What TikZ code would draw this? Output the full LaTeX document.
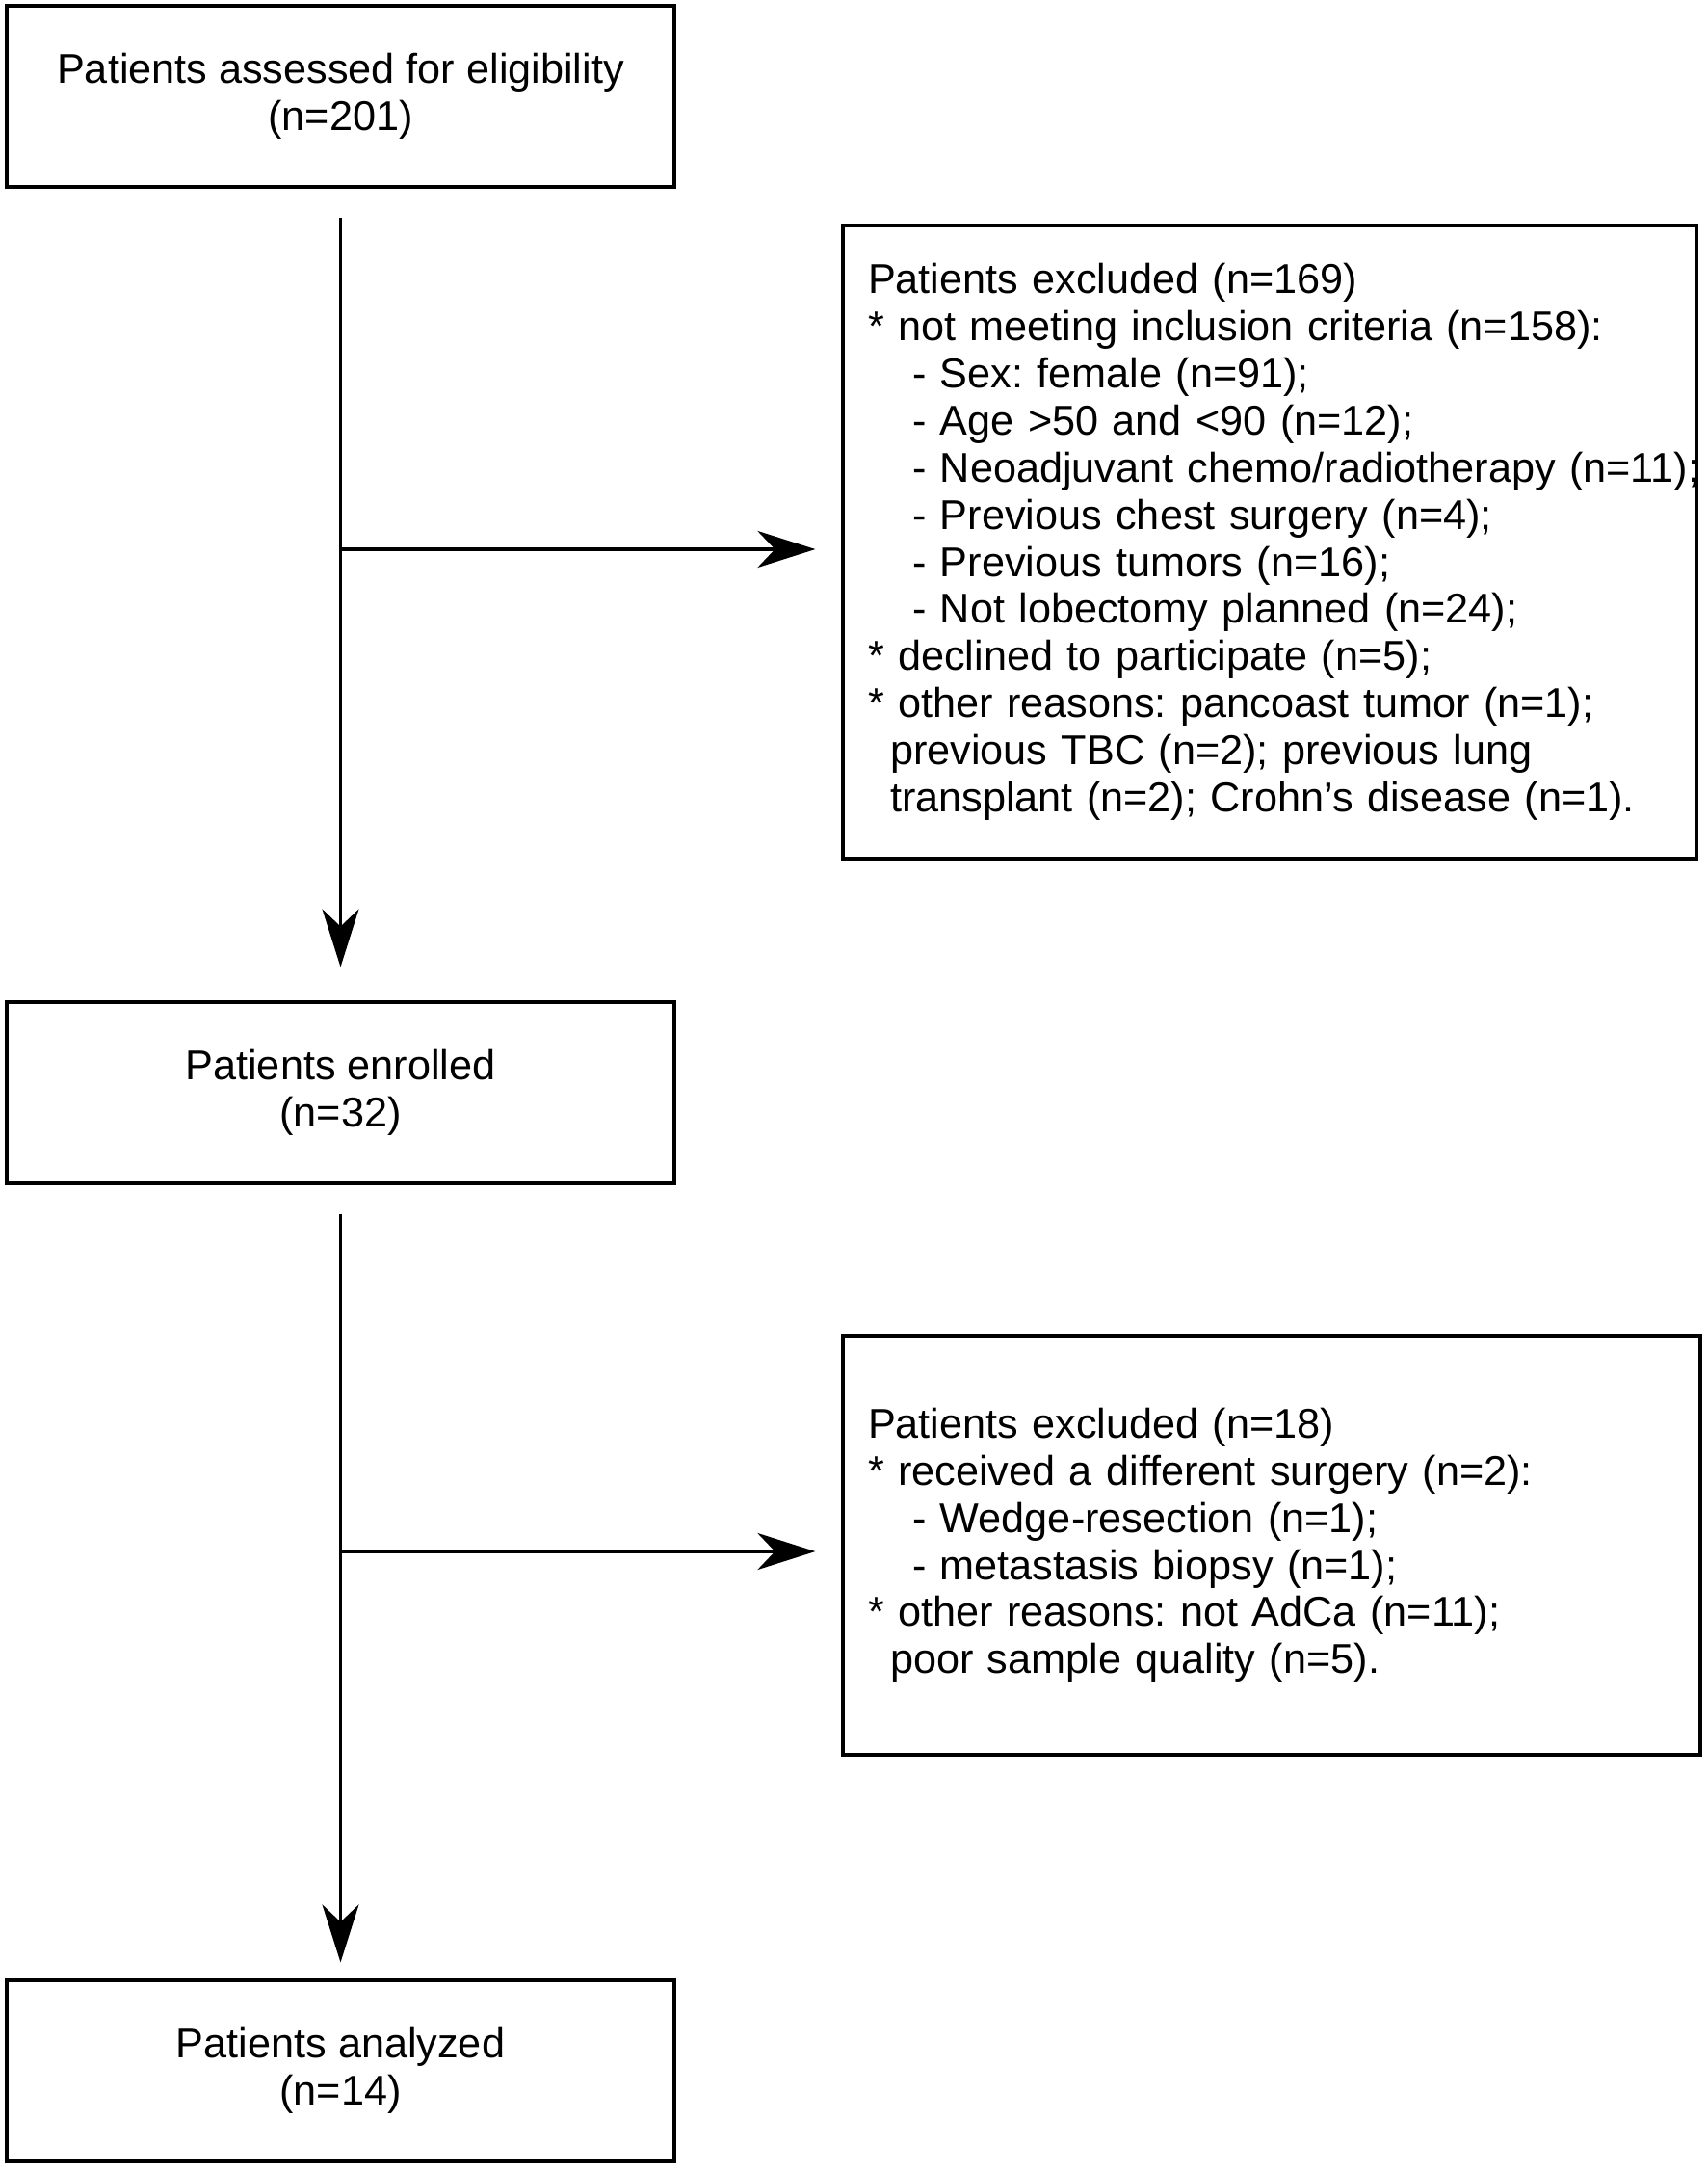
\documentclass[tikz,border=0pt]{standalone}
\usepackage{fontspec}
\setmainfont{Liberation Sans}
\frenchspacing
\usetikzlibrary{arrows.meta}
\tikzset{
  flowbox/.style={draw, line width=0.9pt, align=center, minimum width=6.93cm, minimum height=1.88cm, font=\fontsize{12.3}{13.9}\selectfont},
  exclbox/.style={draw, line width=0.9pt, align=left, inner xsep=0.26cm, font=\fontsize{12.3}{13.9}\selectfont},
  arr/.style={line width=0.9pt, -{Stealth[length=6mm, width=3.8mm, inset=1.8mm]}}
}
\begin{document}
\begin{tikzpicture}
\useasboundingbox (0,0) rectangle (17.72,-22.54);
\node[flowbox] (assessed) at (3.535,-1.00) {Patients assessed for eligibility\\(n=201)};
\node[exclbox, text width=8.34cm, minimum height=6.57cm] (excl1) at (13.18,-5.625) {Patients excluded (n=169)\\
{*} not meeting inclusion criteria (n=158):\\
\hspace*{0.46cm}- Sex: female (n=91);\\
\hspace*{0.46cm}- Age >50 and <90 (n=12);\\
\mbox{\hspace*{0.46cm}- Neoadjuvant chemo/radiotherapy (n=11);}\\
\hspace*{0.46cm}- Previous chest surgery (n=4);\\
\hspace*{0.46cm}- Previous tumors (n=16);\\
\hspace*{0.46cm}- Not lobectomy planned (n=24);\\
{*} declined to participate (n=5);\\
{*} other reasons: pancoast tumor (n=1);\\
\hspace*{0.23cm}previous TBC (n=2); previous lung\\
\hspace*{0.23cm}transplant (n=2); Crohn’s disease (n=1).};
\node[flowbox] (enrolled) at (3.535,-11.34) {Patients enrolled\\(n=32)};
\node[exclbox, text width=8.38cm, minimum height=4.35cm] (excl2) at (13.20,-16.035) {Patients excluded (n=18)\\
{*} received a different surgery (n=2):\\
\hspace*{0.46cm}- Wedge-resection (n=1);\\
\hspace*{0.46cm}- metastasis biopsy (n=1);\\
{*} other reasons: not AdCa (n=11);\\
\hspace*{0.23cm}poor sample quality (n=5).};
\node[flowbox] (analyzed) at (3.535,-21.49) {Patients analyzed\\(n=14)};
% side branches
\coordinate (split1) at (3.535,-5.70);
\coordinate (split2) at (3.535,-16.10);
\draw[arr, shorten <=0.30cm, shorten >=0.35cm] (assessed.south) -- (enrolled.north);
\draw[arr, shorten >=0.27cm] (split1) -- (split1 -| excl1.west);
\draw[arr, shorten <=0.30cm, shorten >=0.17cm] (enrolled.south) -- (analyzed.north);
\draw[arr, shorten >=0.27cm] (split2) -- (split2 -| excl2.west);
\end{tikzpicture}
\end{document}
